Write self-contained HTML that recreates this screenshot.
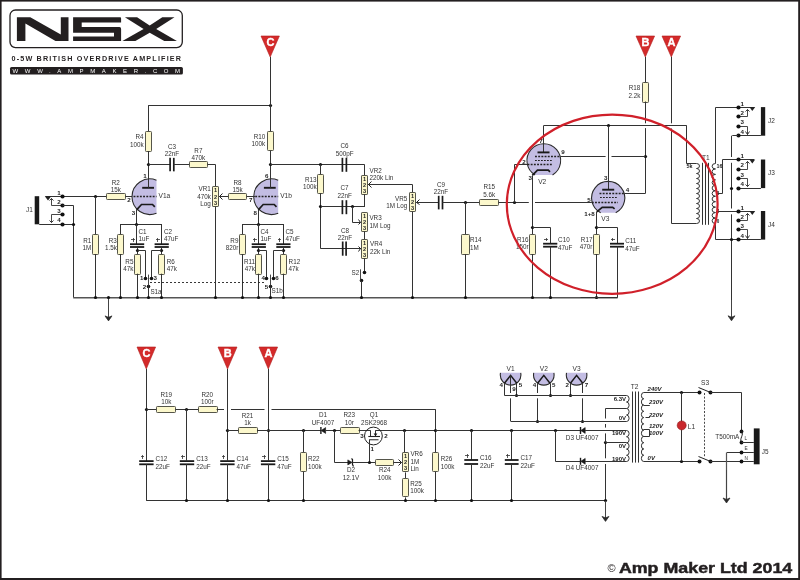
<!DOCTYPE html>
<html><head><meta charset="utf-8"><style>
html,body{margin:0;padding:0;background:#fff;overflow:hidden;}
svg{display:block;font-family:"Liberation Sans",sans-serif;will-change:transform;}
</style></head><body>
<svg width="800" height="580" viewBox="0 0 800 580">
<rect x="0" y="0" width="800" height="580" fill="#fff"/>
<rect x="0" y="0" width="800" height="1.6" fill="#231f20"/>
<rect x="0" y="0" width="1.6" height="580" fill="#231f20"/>
<rect x="798.2" y="0" width="1.8" height="580" fill="#231f20"/>
<rect x="0" y="578" width="800" height="2" fill="#231f20"/>
<rect x="10" y="10" width="172.3" height="37.6" rx="5.5" fill="none" stroke="#231f20" stroke-width="1.3"/>
<path d="M16.9,17.3 L30.3,17.3 L60.8,34.6 L60.8,17.3 L68.5,17.3 L68.5,40.9 L55.5,40.9 L25.4,23.6 L25.4,40.9 L16.9,40.9 Z" fill="#231f20"/>
<path d="M73.1,17.3 L120.2,17.3 Q121.1,17.3 121.1,18.5 L121.1,22.6 L81.7,22.6 L81.7,27 L119.5,27 Q121.1,27 121.1,28.8 L121.1,40.9 L73.1,40.9 L73.1,36.4 L114,36.4 L114,32.7 L73.1,32.7 Z" fill="#231f20"/>
<path d="M124.9,17.3 L137.1,17.3 L149.7,25.4 L162.3,17.3 L174.5,17.3 L156.2,29.1 L176.9,40.9 L164.3,40.9 L149.7,32.7 L135.4,40.9 L122.4,40.9 L143.6,29.1 Z" fill="#231f20"/>
<text x="11.5" y="60.9" font-size="7.2" font-weight="bold" fill="#231f20" textLength="169.5" lengthAdjust="spacing">0-5W BRITISH OVERDRIVE AMPLIFIER</text>
<rect x="10" y="67" width="172.9" height="7.4" rx="1.5" fill="#231f20"/>
<text x="12.6" y="73.3" font-size="6" fill="#fff" textLength="167.5" lengthAdjust="spacing">WWW.AMPMAKER.COM</text>
<text x="607.5" y="571.5" font-size="11" fill="#231f20">©</text>
<text x="618.9" y="572.6" font-size="14.6" font-weight="bold" fill="#231f20" textLength="173.4" lengthAdjust="spacingAndGlyphs" stroke="#231f20" stroke-width="0.45">Amp Maker Ltd 2014</text>
<rect x="34.7" y="196.2" width="4.5" height="28.1" fill="#1a1a1a"/>
<line x1="39.2" y1="224.5" x2="73.2" y2="224.5" stroke="#333" stroke-width="1"/>
<line x1="45.5" y1="196.5" x2="106.2" y2="196.5" stroke="#333" stroke-width="1"/>
<path d="M44.8,196.2 L51.2,196.2 L48,200.6 Z" fill="#222"/>
<polyline points="62.5,205.5 51.5,205.5 51.5,198.5" fill="none" stroke="#333" stroke-width="0.9"/>
<polyline points="49.5,200.5 51.5,198.5 53.5,200.5" fill="none" stroke="#222" stroke-width="0.9"/>
<polyline points="62.5,214.5 51.5,214.5 51.5,222.5" fill="none" stroke="#333" stroke-width="0.9"/>
<polyline points="49.5,220.5 51.5,222.5 53.5,220.5" fill="none" stroke="#222" stroke-width="0.9"/>
<circle cx="62.5" cy="196.5" r="2.1" fill="#111"/>
<circle cx="62.5" cy="205.5" r="2.1" fill="#111"/>
<circle cx="62.5" cy="214.5" r="2.1" fill="#111"/>
<circle cx="62.5" cy="224.5" r="2.1" fill="#111"/>
<polyline points="62.5,205.5 73.5,205.5 73.5,297.5" fill="none" stroke="#333" stroke-width="1"/>
<circle cx="73.5" cy="224.5" r="1.6" fill="#111"/>
<text x="57.2" y="194.6" font-size="6.2" font-weight="bold" fill="#222">1</text>
<text x="57.2" y="203.6" font-size="6.2" font-weight="bold" fill="#222">2</text>
<text x="57.2" y="212.9" font-size="6.2" font-weight="bold" fill="#222">3</text>
<text x="57.2" y="222.2" font-size="6.2" font-weight="bold" fill="#222">4</text>
<text x="26" y="212" font-size="6.5" fill="#333">J1</text>
<line x1="73.2" y1="297.7" x2="617.6" y2="297.7" stroke="#555" stroke-width="1.5"/>
<line x1="108.5" y1="297.7" x2="108.5" y2="319.5" stroke="#444" stroke-width="1"/>
<path d="M105.0,315.9 L108.5,317.3 L112.0,315.9 L108.5,320.9 Z" fill="#2a2a2a" stroke="#2a2a2a" stroke-width="0.7" stroke-linejoin="round"/>
<circle cx="108.5" cy="297.5" r="1.6" fill="#111"/>
<circle cx="95.5" cy="196.5" r="1.6" fill="#111"/>
<line x1="95.5" y1="196.7" x2="95.5" y2="234.5" stroke="#333" stroke-width="1"/>
<rect x="92.5" y="234.5" width="6" height="20" rx="0.8" fill="#fcf8cc" stroke="#55554a" stroke-width="1"/>
<line x1="95.5" y1="254" x2="95.5" y2="297.7" stroke="#333" stroke-width="1"/>
<circle cx="95.5" cy="297.5" r="1.6" fill="#111"/>
<text x="91.2" y="242.7" font-size="6.3" text-anchor="end" fill="#333">R1</text>
<text x="91.2" y="250.2" font-size="6.3" text-anchor="end" fill="#333">1M</text>
<rect x="106.5" y="193.5" width="19" height="6" rx="0.8" fill="#fcf8cc" stroke="#55554a" stroke-width="1"/>
<text x="115.8" y="184.7" font-size="6.3" text-anchor="middle" fill="#333">R2</text>
<text x="115.8" y="191.7" font-size="6.3" text-anchor="middle" fill="#333">15k</text>
<line x1="125.4" y1="196.5" x2="133" y2="196.5" stroke="#333" stroke-width="1"/>
<path d="M156.5,180.20909341485435 A17.8,17.8 0 1 0 156.5,213.19090658514563 Z" fill="#c3bde3" stroke="none"/>
<path d="M156.5,180.20909341485435 A17.8,17.8 0 1 0 156.5,213.19090658514563" fill="none" stroke="#2b2b2b" stroke-width="1.1"/>
<line x1="142.2" y1="187.8" x2="154" y2="187.8" stroke="#1a1a1a" stroke-width="1.9"/>
<line x1="148.5" y1="164.3" x2="148.5" y2="187.8" stroke="#333" stroke-width="1"/>
<line x1="133.5" y1="196.5" x2="156.5" y2="196.5" stroke="#222" stroke-width="1.6" stroke-dasharray="1.9 1.3"/>
<polyline points="136.6,209.8 141.5,204.5 152.5,204.5 154.8,206.8" fill="none" stroke="#1a1a1a" stroke-width="1.7"/>
<line x1="136.5" y1="209.8" x2="136.5" y2="224" stroke="#333" stroke-width="1"/>
<text x="143.3" y="178.3" font-size="6.2" font-weight="bold" fill="#222">1</text>
<text x="127.2" y="201.8" font-size="6.2" font-weight="bold" fill="#222">2</text>
<text x="131.8" y="215.2" font-size="6.2" font-weight="bold" fill="#222">3</text>
<text x="158.5" y="198.2" font-size="6.6" fill="#333">V1a</text>
<line x1="120.8" y1="224.5" x2="161.7" y2="224.5" stroke="#333" stroke-width="1"/>
<circle cx="136.5" cy="224.5" r="1.6" fill="#111"/>
<line x1="120.5" y1="224" x2="120.5" y2="234.5" stroke="#333" stroke-width="1"/>
<rect x="117.5" y="234.5" width="6" height="20" rx="0.8" fill="#fcf8cc" stroke="#55554a" stroke-width="1"/>
<line x1="120.5" y1="254" x2="120.5" y2="297.7" stroke="#333" stroke-width="1"/>
<circle cx="120.5" cy="297.5" r="1.6" fill="#111"/>
<line x1="136.5" y1="224" x2="136.5" y2="244.2" stroke="#333" stroke-width="1"/>
<line x1="130.0" y1="244.20000000000002" x2="144.2" y2="244.20000000000002" stroke="#1a1a1a" stroke-width="1.8"/>
<line x1="130.0" y1="247.0" x2="144.2" y2="247.0" stroke="#1a1a1a" stroke-width="1.8"/>
<line x1="131.2" y1="239.5" x2="135.0" y2="239.5" stroke="#333" stroke-width="0.8" shape-rendering="crispEdges"/>
<line x1="133.5" y1="238.0" x2="133.5" y2="241.8" stroke="#333" stroke-width="0.8" shape-rendering="crispEdges"/>
<line x1="137.5" y1="246.8" x2="137.5" y2="254.2" stroke="#333" stroke-width="1"/>
<circle cx="137.5" cy="250.5" r="1.6" fill="#111"/>
<rect x="134.5" y="254.5" width="6" height="20" rx="0.8" fill="#fcf8cc" stroke="#55554a" stroke-width="1"/>
<line x1="137.5" y1="273.7" x2="137.5" y2="297.7" stroke="#333" stroke-width="1"/>
<circle cx="137.5" cy="297.5" r="1.6" fill="#111"/>
<polyline points="137.5,250.5 145.5,250.5 145.5,278.5" fill="none" stroke="#333" stroke-width="1"/>
<line x1="161.5" y1="224" x2="161.5" y2="244.2" stroke="#333" stroke-width="1"/>
<line x1="154.6" y1="244.20000000000002" x2="168.79999999999998" y2="244.20000000000002" stroke="#1a1a1a" stroke-width="1.8"/>
<line x1="154.6" y1="247.0" x2="168.79999999999998" y2="247.0" stroke="#1a1a1a" stroke-width="1.8"/>
<line x1="155.79999999999998" y1="239.5" x2="159.6" y2="239.5" stroke="#333" stroke-width="0.8" shape-rendering="crispEdges"/>
<line x1="157.5" y1="238.0" x2="157.5" y2="241.8" stroke="#333" stroke-width="0.8" shape-rendering="crispEdges"/>
<line x1="161.5" y1="246.8" x2="161.5" y2="254.2" stroke="#333" stroke-width="1"/>
<circle cx="161.5" cy="250.5" r="1.6" fill="#111"/>
<rect x="158.5" y="254.5" width="6" height="20" rx="0.8" fill="#fcf8cc" stroke="#55554a" stroke-width="1"/>
<line x1="161.5" y1="273.7" x2="161.5" y2="297.7" stroke="#333" stroke-width="1"/>
<circle cx="161.5" cy="297.5" r="1.6" fill="#111"/>
<polyline points="161.5,250.5 151.5,250.5 151.5,278.5" fill="none" stroke="#333" stroke-width="1"/>
<circle cx="145.5" cy="278.5" r="1.8" fill="#111"/>
<circle cx="151.5" cy="278.5" r="1.8" fill="#111"/>
<circle cx="148.5" cy="286.5" r="1.8" fill="#111"/>
<line x1="148.5" y1="286.8" x2="148.5" y2="274.6" stroke="#333" stroke-width="0.9"/>
<line x1="148.5" y1="286.8" x2="148.5" y2="297.7" stroke="#333" stroke-width="1"/>
<circle cx="148.5" cy="297.5" r="1.6" fill="#111"/>
<path d="M278.2,180.20909341485435 A17.8,17.8 0 1 0 278.2,213.19090658514563 Z" fill="#c3bde3" stroke="none"/>
<path d="M278.2,180.20909341485435 A17.8,17.8 0 1 0 278.2,213.19090658514563" fill="none" stroke="#2b2b2b" stroke-width="1.1"/>
<line x1="263.9" y1="187.8" x2="275.7" y2="187.8" stroke="#1a1a1a" stroke-width="1.9"/>
<line x1="270.5" y1="164.3" x2="270.5" y2="187.8" stroke="#333" stroke-width="1"/>
<line x1="255.2" y1="196.5" x2="278.2" y2="196.5" stroke="#222" stroke-width="1.6" stroke-dasharray="1.9 1.3"/>
<polyline points="258.3,209.8 263.2,204.5 274.2,204.5 276.5,206.8" fill="none" stroke="#1a1a1a" stroke-width="1.7"/>
<line x1="258.5" y1="209.8" x2="258.5" y2="224" stroke="#333" stroke-width="1"/>
<text x="265.0" y="178.3" font-size="6.2" font-weight="bold" fill="#222">6</text>
<text x="248.9" y="201.8" font-size="6.2" font-weight="bold" fill="#222">7</text>
<text x="253.5" y="215.2" font-size="6.2" font-weight="bold" fill="#222">8</text>
<text x="280.2" y="198.2" font-size="6.6" fill="#333">V1b</text>
<line x1="242.5" y1="224.5" x2="283.4" y2="224.5" stroke="#333" stroke-width="1"/>
<circle cx="258.5" cy="224.5" r="1.6" fill="#111"/>
<line x1="242.5" y1="224" x2="242.5" y2="234.5" stroke="#333" stroke-width="1"/>
<rect x="239.5" y="234.5" width="6" height="20" rx="0.8" fill="#fcf8cc" stroke="#55554a" stroke-width="1"/>
<line x1="242.5" y1="254" x2="242.5" y2="297.7" stroke="#333" stroke-width="1"/>
<circle cx="242.5" cy="297.5" r="1.6" fill="#111"/>
<line x1="258.5" y1="224" x2="258.5" y2="244.2" stroke="#333" stroke-width="1"/>
<line x1="251.70000000000002" y1="244.20000000000002" x2="265.90000000000003" y2="244.20000000000002" stroke="#1a1a1a" stroke-width="1.8"/>
<line x1="251.70000000000002" y1="247.0" x2="265.90000000000003" y2="247.0" stroke="#1a1a1a" stroke-width="1.8"/>
<line x1="252.9" y1="239.5" x2="256.7" y2="239.5" stroke="#333" stroke-width="0.8" shape-rendering="crispEdges"/>
<line x1="254.5" y1="238.0" x2="254.5" y2="241.8" stroke="#333" stroke-width="0.8" shape-rendering="crispEdges"/>
<line x1="258.5" y1="246.8" x2="258.5" y2="254.2" stroke="#333" stroke-width="1"/>
<circle cx="258.5" cy="250.5" r="1.6" fill="#111"/>
<rect x="255.5" y="254.5" width="6" height="20" rx="0.8" fill="#fcf8cc" stroke="#55554a" stroke-width="1"/>
<line x1="258.5" y1="273.7" x2="258.5" y2="297.7" stroke="#333" stroke-width="1"/>
<circle cx="258.5" cy="297.5" r="1.6" fill="#111"/>
<polyline points="258.5,250.5 266.5,250.5 266.5,278.5" fill="none" stroke="#333" stroke-width="1"/>
<line x1="283.5" y1="224" x2="283.5" y2="244.2" stroke="#333" stroke-width="1"/>
<line x1="276.29999999999995" y1="244.20000000000002" x2="290.5" y2="244.20000000000002" stroke="#1a1a1a" stroke-width="1.8"/>
<line x1="276.29999999999995" y1="247.0" x2="290.5" y2="247.0" stroke="#1a1a1a" stroke-width="1.8"/>
<line x1="277.5" y1="239.5" x2="281.29999999999995" y2="239.5" stroke="#333" stroke-width="0.8" shape-rendering="crispEdges"/>
<line x1="279.5" y1="238.0" x2="279.5" y2="241.8" stroke="#333" stroke-width="0.8" shape-rendering="crispEdges"/>
<line x1="283.5" y1="246.8" x2="283.5" y2="254.2" stroke="#333" stroke-width="1"/>
<circle cx="283.5" cy="250.5" r="1.6" fill="#111"/>
<rect x="280.5" y="254.5" width="6" height="20" rx="0.8" fill="#fcf8cc" stroke="#55554a" stroke-width="1"/>
<line x1="283.5" y1="273.7" x2="283.5" y2="297.7" stroke="#333" stroke-width="1"/>
<circle cx="283.5" cy="297.5" r="1.6" fill="#111"/>
<polyline points="283.5,250.5 273.5,250.5 273.5,278.5" fill="none" stroke="#333" stroke-width="1"/>
<circle cx="266.5" cy="278.5" r="1.8" fill="#111"/>
<circle cx="273.5" cy="278.5" r="1.8" fill="#111"/>
<circle cx="270.5" cy="286.5" r="1.8" fill="#111"/>
<line x1="270.5" y1="286.8" x2="270.5" y2="274.6" stroke="#333" stroke-width="0.9"/>
<line x1="270.5" y1="286.8" x2="270.5" y2="297.7" stroke="#333" stroke-width="1"/>
<circle cx="270.5" cy="297.5" r="1.6" fill="#111"/>
<text x="138.5" y="233.7" font-size="6.3" fill="#333">C1</text>
<text x="138.5" y="240.8" font-size="6.3" fill="#333">1uF</text>
<text x="164" y="233.7" font-size="6.3" fill="#333">C2</text>
<text x="164" y="240.8" font-size="6.3" fill="#333">47uF</text>
<text x="116.8" y="242.7" font-size="6.3" text-anchor="end" fill="#333">R3</text>
<text x="116.8" y="250.2" font-size="6.3" text-anchor="end" fill="#333">1.5k</text>
<text x="133.4" y="263.9" font-size="6.3" text-anchor="end" fill="#333">R5</text>
<text x="133.4" y="271.3" font-size="6.3" text-anchor="end" fill="#333">47k</text>
<text x="166.8" y="263.9" font-size="6.3" fill="#333">R6</text>
<text x="166.8" y="271.3" font-size="6.3" fill="#333">47k</text>
<text x="143.4" y="280.2" font-size="6.2" text-anchor="end" font-weight="bold" fill="#222">1</text>
<text x="153.4" y="280.2" font-size="6.2" font-weight="bold" fill="#222">3</text>
<text x="146.3" y="289" font-size="6.2" text-anchor="end" font-weight="bold" fill="#222">2</text>
<text x="150.4" y="293.8" font-size="6.3" fill="#333">S1a</text>
<text x="260.5" y="233.7" font-size="6.3" fill="#333">C4</text>
<text x="260.5" y="240.8" font-size="6.3" fill="#333">1uF</text>
<text x="285.5" y="233.7" font-size="6.3" fill="#333">C5</text>
<text x="285.5" y="240.8" font-size="6.3" fill="#333">47uF</text>
<text x="238.4" y="243" font-size="6.3" text-anchor="end" fill="#333">R9</text>
<text x="238.4" y="250.4" font-size="6.3" text-anchor="end" fill="#333">820r</text>
<text x="255" y="264.1" font-size="6.3" text-anchor="end" fill="#333">R11</text>
<text x="255" y="271.4" font-size="6.3" text-anchor="end" fill="#333">47k</text>
<text x="288.6" y="264.1" font-size="6.3" fill="#333">R12</text>
<text x="288.6" y="271.4" font-size="6.3" fill="#333">47k</text>
<text x="264.9" y="280.4" font-size="6.2" text-anchor="end" font-weight="bold" fill="#222">4</text>
<text x="275.3" y="280.4" font-size="6.2" font-weight="bold" fill="#222">6</text>
<text x="268.1" y="289" font-size="6.2" text-anchor="end" font-weight="bold" fill="#222">5</text>
<text x="271.6" y="293.4" font-size="6.3" fill="#333">S1b</text>
<line x1="150" y1="282.5" x2="266" y2="282.5" stroke="#222" stroke-width="0.9" stroke-dasharray="2 2"/>
<line x1="148.4" y1="105.5" x2="270" y2="105.5" stroke="#333" stroke-width="1"/>
<circle cx="270.5" cy="105.5" r="1.6" fill="#111"/>
<line x1="148.5" y1="105.2" x2="148.5" y2="131.4" stroke="#333" stroke-width="1"/>
<rect x="145.5" y="131.5" width="6" height="20" rx="0.8" fill="#fcf8cc" stroke="#55554a" stroke-width="1"/>
<line x1="148.5" y1="151" x2="148.5" y2="164.3" stroke="#333" stroke-width="1"/>
<circle cx="148.5" cy="164.5" r="1.6" fill="#111"/>
<text x="143.6" y="139.3" font-size="6.3" text-anchor="end" fill="#333">R4</text>
<text x="143.6" y="146.8" font-size="6.3" text-anchor="end" fill="#333">100k</text>
<line x1="148.4" y1="164.5" x2="170.3" y2="164.5" stroke="#333" stroke-width="1"/>
<line x1="170.10000000000002" y1="157.85" x2="170.10000000000002" y2="171.35" stroke="#1a1a1a" stroke-width="1.7"/>
<line x1="173.79999999999998" y1="157.85" x2="173.79999999999998" y2="171.35" stroke="#1a1a1a" stroke-width="1.7"/>
<line x1="173.6" y1="164.5" x2="189.2" y2="164.5" stroke="#333" stroke-width="1"/>
<text x="172" y="149.2" font-size="6.3" text-anchor="middle" fill="#333">C3</text>
<text x="172" y="156.3" font-size="6.3" text-anchor="middle" fill="#333">22nF</text>
<rect x="189.5" y="161.5" width="18" height="6" rx="0.8" fill="#fcf8cc" stroke="#55554a" stroke-width="1"/>
<text x="198.4" y="152.8" font-size="6.3" text-anchor="middle" fill="#333">R7</text>
<text x="198.4" y="159.7" font-size="6.3" text-anchor="middle" fill="#333">470k</text>
<polyline points="207.5,164.5 215.5,164.5 215.5,186.5" fill="none" stroke="#333" stroke-width="1"/>
<rect x="212.5" y="186.5" width="6" height="20" rx="0.6" fill="#fcf8cc" stroke="#55554a" stroke-width="1"/>
<text x="215.5" y="191.83333333333334" font-size="5.6" text-anchor="middle" font-weight="bold" fill="#222">1</text>
<text x="215.5" y="198.5" font-size="5.6" text-anchor="middle" font-weight="bold" fill="#222">2</text>
<text x="215.5" y="205.16666666666666" font-size="5.6" text-anchor="middle" font-weight="bold" fill="#222">3</text>
<line x1="215.5" y1="206.8" x2="215.5" y2="297.7" stroke="#333" stroke-width="1"/>
<circle cx="215.5" cy="297.5" r="1.6" fill="#111"/>
<line x1="219.2" y1="196.5" x2="228.3" y2="196.5" stroke="#333" stroke-width="1"/>
<polyline points="222.5,193.5 219.5,196.5 222.5,199.5" fill="none" stroke="#222" stroke-width="1"/>
<text x="210.8" y="191.3" font-size="6.3" text-anchor="end" fill="#333">VR1</text>
<text x="210.8" y="198.8" font-size="6.3" text-anchor="end" fill="#333">470k</text>
<text x="210.8" y="206.2" font-size="6.3" text-anchor="end" fill="#333">Log</text>
<rect x="228.5" y="193.5" width="18" height="6" rx="0.8" fill="#fcf8cc" stroke="#55554a" stroke-width="1"/>
<text x="237.6" y="185.3" font-size="6.3" text-anchor="middle" fill="#333">R8</text>
<text x="237.6" y="192.4" font-size="6.3" text-anchor="middle" fill="#333">15k</text>
<line x1="246.7" y1="196.5" x2="255" y2="196.5" stroke="#333" stroke-width="1"/>
<path d="M261,36 L279.4,36 L270.2,57 Z" fill="#d42a2a" stroke="#b01c1c" stroke-width="0.6"/>
<text x="270.4" y="45.7" font-size="11" text-anchor="middle" font-weight="bold" fill="#fff" stroke="#fff" stroke-width="0.35">C</text>
<line x1="270.5" y1="57" x2="270.5" y2="131.7" stroke="#333" stroke-width="1"/>
<rect x="267.5" y="131.5" width="6" height="19" rx="0.8" fill="#fcf8cc" stroke="#55554a" stroke-width="1"/>
<text x="265.2" y="139.2" font-size="6.3" text-anchor="end" fill="#333">R10</text>
<text x="265.2" y="146.4" font-size="6.3" text-anchor="end" fill="#333">100k</text>
<line x1="270.5" y1="150.7" x2="270.5" y2="164.3" stroke="#333" stroke-width="1"/>
<circle cx="270.5" cy="164.5" r="1.6" fill="#111"/>
<line x1="270.1" y1="164.5" x2="364.3" y2="164.5" stroke="#333" stroke-width="1"/>
<circle cx="320.5" cy="164.5" r="1.6" fill="#111"/>
<line x1="342.40000000000003" y1="157.8" x2="342.40000000000003" y2="171.8" stroke="#1a1a1a" stroke-width="1.7"/>
<line x1="346.4" y1="157.8" x2="346.4" y2="171.8" stroke="#1a1a1a" stroke-width="1.7"/>
<text x="344.6" y="148" font-size="6.3" text-anchor="middle" fill="#333">C6</text>
<text x="344.6" y="155.5" font-size="6.3" text-anchor="middle" fill="#333">500pF</text>
<line x1="364.5" y1="164.3" x2="364.5" y2="175.2" stroke="#333" stroke-width="1"/>
<rect x="361.5" y="175.5" width="6" height="19" rx="0.6" fill="#fcf8cc" stroke="#55554a" stroke-width="1"/>
<text x="364.5" y="180.66666666666666" font-size="5.6" text-anchor="middle" font-weight="bold" fill="#222">1</text>
<text x="364.5" y="187.0" font-size="5.6" text-anchor="middle" font-weight="bold" fill="#222">2</text>
<text x="364.5" y="193.33333333333334" font-size="5.6" text-anchor="middle" font-weight="bold" fill="#222">3</text>
<line x1="364.5" y1="194.3" x2="364.5" y2="207" stroke="#333" stroke-width="1"/>
<text x="369.5" y="172.8" font-size="6.3" fill="#333">VR2</text>
<text x="369.5" y="179.9" font-size="6.3" fill="#333">220k Lin</text>
<line x1="320.5" y1="164.3" x2="320.5" y2="174.3" stroke="#333" stroke-width="1"/>
<rect x="317.5" y="174.5" width="6" height="19" rx="0.8" fill="#fcf8cc" stroke="#55554a" stroke-width="1"/>
<text x="316.6" y="182.2" font-size="6.3" text-anchor="end" fill="#333">R13</text>
<text x="316.6" y="189.3" font-size="6.3" text-anchor="end" fill="#333">100k</text>
<line x1="320.5" y1="193.3" x2="320.5" y2="248.8" stroke="#333" stroke-width="1"/>
<circle cx="320.5" cy="206.5" r="1.6" fill="#111"/>
<line x1="321" y1="206.5" x2="364.3" y2="206.5" stroke="#333" stroke-width="1"/>
<line x1="342.40000000000003" y1="200.2" x2="342.40000000000003" y2="214.2" stroke="#1a1a1a" stroke-width="1.7"/>
<line x1="346.4" y1="200.2" x2="346.4" y2="214.2" stroke="#1a1a1a" stroke-width="1.7"/>
<circle cx="352.5" cy="206.5" r="1.6" fill="#111"/>
<text x="344.6" y="190.4" font-size="6.3" text-anchor="middle" fill="#333">C7</text>
<text x="344.6" y="197.6" font-size="6.3" text-anchor="middle" fill="#333">22nF</text>
<polyline points="352.5,206.5 352.5,222.5 360.5,222.5" fill="none" stroke="#333" stroke-width="1"/>
<polyline points="358.5,219.5 360.5,222.5 358.5,224.5" fill="none" stroke="#222" stroke-width="1"/>
<rect x="361.5" y="212.5" width="6" height="19" rx="0.6" fill="#fcf8cc" stroke="#55554a" stroke-width="1"/>
<text x="364.5" y="217.66666666666666" font-size="5.6" text-anchor="middle" font-weight="bold" fill="#222">1</text>
<text x="364.5" y="224.0" font-size="5.6" text-anchor="middle" font-weight="bold" fill="#222">2</text>
<text x="364.5" y="230.33333333333334" font-size="5.6" text-anchor="middle" font-weight="bold" fill="#222">3</text>
<line x1="364.5" y1="231.5" x2="364.5" y2="239.3" stroke="#333" stroke-width="1"/>
<rect x="361.5" y="239.5" width="6" height="19" rx="0.6" fill="#fcf8cc" stroke="#55554a" stroke-width="1"/>
<text x="364.5" y="244.66666666666666" font-size="5.6" text-anchor="middle" font-weight="bold" fill="#222">1</text>
<text x="364.5" y="251.0" font-size="5.6" text-anchor="middle" font-weight="bold" fill="#222">2</text>
<text x="364.5" y="257.33333333333337" font-size="5.6" text-anchor="middle" font-weight="bold" fill="#222">3</text>
<text x="369.4" y="220.4" font-size="6.3" fill="#333">VR3</text>
<text x="369.4" y="227.7" font-size="6.3" fill="#333">1M Log</text>
<text x="370" y="246.4" font-size="6.3" fill="#333">VR4</text>
<text x="370" y="253.7" font-size="6.3" fill="#333">22k Lin</text>
<line x1="321" y1="248.5" x2="361" y2="248.5" stroke="#333" stroke-width="1"/>
<line x1="342.7" y1="241.5" x2="342.7" y2="255.7" stroke="#1a1a1a" stroke-width="1.7"/>
<line x1="346.09999999999997" y1="241.5" x2="346.09999999999997" y2="255.7" stroke="#1a1a1a" stroke-width="1.7"/>
<polyline points="358.5,246.5 360.5,248.5 358.5,251.5" fill="none" stroke="#222" stroke-width="1"/>
<text x="345" y="232.9" font-size="6.3" text-anchor="middle" fill="#333">C8</text>
<text x="345" y="240.2" font-size="6.3" text-anchor="middle" fill="#333">22nF</text>
<line x1="364.5" y1="258.5" x2="364.5" y2="272" stroke="#333" stroke-width="1"/>
<circle cx="364.5" cy="272.5" r="1.8" fill="#111"/>
<circle cx="361.5" cy="280.5" r="1.8" fill="#111"/>
<line x1="360.5" y1="280.8" x2="360.5" y2="269.3" stroke="#333" stroke-width="0.9"/>
<line x1="361.5" y1="280.8" x2="361.5" y2="297.7" stroke="#333" stroke-width="1"/>
<circle cx="361.5" cy="297.5" r="1.6" fill="#111"/>
<text x="359.2" y="275.3" font-size="6.3" text-anchor="end" fill="#333">S2</text>
<line x1="368" y1="184.5" x2="412.5" y2="184.5" stroke="#333" stroke-width="1"/>
<polyline points="371.5,181.5 368.5,184.5 371.5,187.5" fill="none" stroke="#222" stroke-width="1"/>
<line x1="412.5" y1="184.6" x2="412.5" y2="192.4" stroke="#333" stroke-width="1"/>
<rect x="409.5" y="192.5" width="6" height="19" rx="0.6" fill="#fcf8cc" stroke="#55554a" stroke-width="1"/>
<text x="412.5" y="197.66666666666666" font-size="5.6" text-anchor="middle" font-weight="bold" fill="#222">1</text>
<text x="412.5" y="204.0" font-size="5.6" text-anchor="middle" font-weight="bold" fill="#222">2</text>
<text x="412.5" y="210.33333333333334" font-size="5.6" text-anchor="middle" font-weight="bold" fill="#222">3</text>
<line x1="412.5" y1="211.7" x2="412.5" y2="297.7" stroke="#333" stroke-width="1"/>
<circle cx="412.5" cy="297.5" r="1.6" fill="#111"/>
<text x="407.2" y="200.8" font-size="6.3" text-anchor="end" fill="#333">VR5</text>
<text x="407.2" y="208.2" font-size="6.3" text-anchor="end" fill="#333">1M Log</text>
<line x1="416.2" y1="202.5" x2="438.7" y2="202.5" stroke="#333" stroke-width="1"/>
<polyline points="419.5,199.5 416.5,202.5 419.5,204.5" fill="none" stroke="#222" stroke-width="1"/>
<line x1="438.7" y1="195.79999999999998" x2="438.7" y2="209.4" stroke="#1a1a1a" stroke-width="1.7"/>
<line x1="442.5" y1="195.79999999999998" x2="442.5" y2="209.4" stroke="#1a1a1a" stroke-width="1.7"/>
<text x="441" y="187.3" font-size="6.3" text-anchor="middle" fill="#333">C9</text>
<text x="441" y="194.3" font-size="6.3" text-anchor="middle" fill="#333">22nF</text>
<line x1="442.3" y1="202.5" x2="479.8" y2="202.5" stroke="#333" stroke-width="1"/>
<circle cx="465.5" cy="202.5" r="1.6" fill="#111"/>
<rect x="479.5" y="199.5" width="19" height="6" rx="0.8" fill="#fcf8cc" stroke="#55554a" stroke-width="1"/>
<text x="489.2" y="189" font-size="6.3" text-anchor="middle" fill="#333">R15</text>
<text x="489.2" y="196.9" font-size="6.3" text-anchor="middle" fill="#333">5.6k</text>
<line x1="498.7" y1="202.5" x2="528.8" y2="202.5" stroke="#333" stroke-width="1"/>
<line x1="535" y1="202.5" x2="591.8" y2="202.5" stroke="#333" stroke-width="1"/>
<circle cx="514.5" cy="202.5" r="1.6" fill="#111"/>
<polyline points="514.5,202.5 514.5,164.5 528.5,164.5" fill="none" stroke="#333" stroke-width="1"/>
<line x1="465.5" y1="202.1" x2="465.5" y2="234.4" stroke="#333" stroke-width="1"/>
<rect x="461.5" y="234.5" width="8" height="20" rx="0.8" fill="#fcf8cc" stroke="#55554a" stroke-width="1"/>
<line x1="465.5" y1="254.2" x2="465.5" y2="297.7" stroke="#333" stroke-width="1"/>
<circle cx="465.5" cy="297.5" r="1.6" fill="#111"/>
<text x="470" y="242.4" font-size="6.3" fill="#333">R14</text>
<text x="470" y="249.7" font-size="6.3" fill="#333">1M</text>
<line x1="543.5" y1="125.5" x2="686.7" y2="125.5" stroke="#333" stroke-width="1"/>
<circle cx="608.5" cy="125.5" r="1.6" fill="#111"/>
<polyline points="686.5,125.5 686.5,163.5 696.5,163.5" fill="none" stroke="#333" stroke-width="1"/>
<path d="M636,36 L654.6,36 L645.3,57 Z" fill="#d42a2a" stroke="#b01c1c" stroke-width="0.6"/>
<text x="645.5" y="45.7" font-size="11" text-anchor="middle" font-weight="bold" fill="#fff" stroke="#fff" stroke-width="0.35">B</text>
<path d="M662,36 L680.6,36 L671.3,57 Z" fill="#d42a2a" stroke="#b01c1c" stroke-width="0.6"/>
<text x="671.5" y="45.7" font-size="11" text-anchor="middle" font-weight="bold" fill="#fff" stroke="#fff" stroke-width="0.35">A</text>
<line x1="645.5" y1="57" x2="645.5" y2="82" stroke="#333" stroke-width="1"/>
<rect x="642.5" y="82.5" width="6" height="20" rx="0.8" fill="#fcf8cc" stroke="#55554a" stroke-width="1"/>
<text x="640.3" y="90.2" font-size="6.3" text-anchor="end" fill="#333">R18</text>
<text x="640.3" y="97.6" font-size="6.3" text-anchor="end" fill="#333">2.2k</text>
<line x1="645.5" y1="101.5" x2="645.5" y2="123.3" stroke="#333" stroke-width="1"/>
<line x1="645.5" y1="128.1" x2="645.5" y2="193.4" stroke="#333" stroke-width="1"/>
<circle cx="645.5" cy="156.5" r="1.6" fill="#111"/>
<line x1="671.5" y1="57" x2="671.5" y2="123.3" stroke="#333" stroke-width="1"/>
<polyline points="671.5,128.5 671.5,223.5 696.5,223.5" fill="none" stroke="#333" stroke-width="1"/>
<path d="M535.05,175 A16.85,16.85 0 1 1 552.55,175 Z" fill="#c3bde3" stroke="none"/>
<path d="M535.05,175 A16.85,16.85 0 1 1 552.55,175" fill="none" stroke="#2b2b2b" stroke-width="1.1"/>
<line x1="543.5" y1="125.7" x2="543.5" y2="152.4" stroke="#333" stroke-width="1"/>
<line x1="537.5" y1="152.4" x2="549.5" y2="152.4" stroke="#1a1a1a" stroke-width="1.9"/>
<line x1="535" y1="156.5" x2="560.7" y2="156.5" stroke="#222" stroke-width="1.6" stroke-dasharray="1.9 1.3"/>
<line x1="535" y1="160.5" x2="552.5" y2="160.5" stroke="#222" stroke-width="1.1" stroke-dasharray="1.8 1.2"/>
<line x1="527.5" y1="164.5" x2="552.5" y2="164.5" stroke="#222" stroke-width="1.6" stroke-dasharray="1.9 1.3"/>
<line x1="560.7" y1="156.5" x2="605.6" y2="156.5" stroke="#333" stroke-width="1"/>
<line x1="611.5" y1="156.5" x2="645.4" y2="156.5" stroke="#333" stroke-width="1"/>
<polyline points="532.3,175.4 537.5,170.1 548.3,170.1 550,171.8" fill="none" stroke="#1a1a1a" stroke-width="1.7"/>
<line x1="532.5" y1="175.4" x2="532.5" y2="234.4" stroke="#333" stroke-width="1"/>
<text x="539.3" y="143.2" font-size="6.2" font-weight="bold" fill="#222">7</text>
<text x="561.3" y="154.4" font-size="6.2" font-weight="bold" fill="#222">9</text>
<text x="522.3" y="164" font-size="6.2" font-weight="bold" fill="#222">2</text>
<text x="528.4" y="179.6" font-size="6.2" font-weight="bold" fill="#222">3</text>
<text x="542.2" y="184" font-size="6.6" text-anchor="middle" fill="#333">V2</text>
<circle cx="532.5" cy="227.5" r="1.6" fill="#111"/>
<rect x="529.5" y="234.5" width="6" height="20" rx="0.8" fill="#fcf8cc" stroke="#55554a" stroke-width="1"/>
<line x1="532.5" y1="254" x2="532.5" y2="297.4" stroke="#333" stroke-width="1"/>
<circle cx="532.5" cy="297.5" r="1.6" fill="#111"/>
<polyline points="532.5,227.5 550.5,227.5 550.5,243.5" fill="none" stroke="#333" stroke-width="1"/>
<line x1="543.1" y1="243.70000000000002" x2="557.3000000000001" y2="243.70000000000002" stroke="#1a1a1a" stroke-width="1.8"/>
<line x1="543.1" y1="246.7" x2="557.3000000000001" y2="246.7" stroke="#1a1a1a" stroke-width="1.8"/>
<line x1="544.3000000000001" y1="239.5" x2="548.1" y2="239.5" stroke="#333" stroke-width="0.8" shape-rendering="crispEdges"/>
<line x1="546.5" y1="237.5" x2="546.5" y2="241.3" stroke="#333" stroke-width="0.8" shape-rendering="crispEdges"/>
<line x1="550.5" y1="246.5" x2="550.5" y2="297.4" stroke="#333" stroke-width="1"/>
<circle cx="550.5" cy="297.5" r="1.6" fill="#111"/>
<text x="528.6" y="242.1" font-size="6.3" text-anchor="end" fill="#333">R16</text>
<text x="528.6" y="249.3" font-size="6.3" text-anchor="end" fill="#333">150r</text>
<text x="558.1" y="242.4" font-size="6.3" fill="#333">C10</text>
<text x="558.1" y="249.9" font-size="6.3" fill="#333">47uF</text>
<path d="M600.6820215483151,212.8 A16.6,16.6 0 1 1 615.717978451685,212.8 Z" fill="#c3bde3" stroke="none"/>
<path d="M600.6820215483151,212.8 A16.6,16.6 0 1 1 615.717978451685,212.8" fill="none" stroke="#2b2b2b" stroke-width="1.1"/>
<line x1="608.5" y1="125.7" x2="608.5" y2="189.7" stroke="#333" stroke-width="1"/>
<line x1="602.2" y1="189.7" x2="614.2" y2="189.7" stroke="#1a1a1a" stroke-width="1.9"/>
<line x1="599.5" y1="193.5" x2="624.7" y2="193.5" stroke="#222" stroke-width="1.6" stroke-dasharray="1.9 1.3"/>
<line x1="600" y1="197.5" x2="617.5" y2="197.5" stroke="#222" stroke-width="1.1" stroke-dasharray="1.8 1.2"/>
<line x1="591.8" y1="202.5" x2="618" y2="202.5" stroke="#222" stroke-width="1.6" stroke-dasharray="1.9 1.3"/>
<polyline points="624.5,193.5 645.5,193.5" fill="none" stroke="#333" stroke-width="1"/>
<polyline points="596.7,211.9 602.2,207.3 612.7,207.3 614.6,208.9" fill="none" stroke="#1a1a1a" stroke-width="1.7"/>
<line x1="596.5" y1="211.9" x2="596.5" y2="234.4" stroke="#333" stroke-width="1"/>
<circle cx="596.5" cy="227.5" r="1.6" fill="#111"/>
<text x="604" y="180.3" font-size="6.2" font-weight="bold" fill="#222">3</text>
<text x="625.8" y="192.4" font-size="6.2" font-weight="bold" fill="#222">4</text>
<text x="587.2" y="201.5" font-size="6.2" font-weight="bold" fill="#222">5</text>
<text x="594.8" y="216.3" font-size="6.2" text-anchor="end" font-weight="bold" fill="#222">1+8</text>
<text x="605.3" y="221" font-size="6.6" text-anchor="middle" fill="#333">V3</text>
<rect x="593.5" y="234.5" width="6" height="20" rx="0.8" fill="#fcf8cc" stroke="#55554a" stroke-width="1"/>
<line x1="596.5" y1="254" x2="596.5" y2="297.4" stroke="#333" stroke-width="1"/>
<circle cx="596.5" cy="297.5" r="1.6" fill="#111"/>
<polyline points="596.5,227.5 617.5,227.5 617.5,243.5" fill="none" stroke="#333" stroke-width="1"/>
<line x1="610" y1="243.70000000000002" x2="624" y2="243.70000000000002" stroke="#1a1a1a" stroke-width="1.8"/>
<line x1="610" y1="246.7" x2="624" y2="246.7" stroke="#1a1a1a" stroke-width="1.8"/>
<line x1="611.1" y1="239.5" x2="614.9" y2="239.5" stroke="#333" stroke-width="0.8" shape-rendering="crispEdges"/>
<line x1="612.5" y1="237.5" x2="612.5" y2="241.3" stroke="#333" stroke-width="0.8" shape-rendering="crispEdges"/>
<polyline points="617.5,246.5 617.5,297.5 580.5,297.5" fill="none" stroke="#333" stroke-width="1"/>
<text x="592.4" y="242.1" font-size="6.3" text-anchor="end" fill="#333">R17</text>
<text x="592.4" y="249.3" font-size="6.3" text-anchor="end" fill="#333">470r</text>
<text x="625.2" y="243.3" font-size="6.3" fill="#333">C11</text>
<text x="625.2" y="250.7" font-size="6.3" fill="#333">47uF</text>
<path d="M696.5,163.5 a3,2.5 0 0 1 0,5.0 a3,2.5 0 0 1 0,5.0 a3,2.5 0 0 1 0,5.0 a3,2.5 0 0 1 0,5.0 a3,2.5 0 0 1 0,5.0 a3,2.5 0 0 1 0,5.0 a3,2.5 0 0 1 0,5.0 a3,2.5 0 0 1 0,5.0 a3,2.5 0 0 1 0,5.0 a3,2.5 0 0 1 0,5.0 a3,2.5 0 0 1 0,5.0 a3,2.5 0 0 1 0,5.0" fill="none" stroke="#333" stroke-width="1"/>
<line x1="702.5" y1="162.8" x2="702.5" y2="224.8" stroke="#333" stroke-width="1"/>
<line x1="705.5" y1="162.8" x2="705.5" y2="224.8" stroke="#333" stroke-width="1"/>
<line x1="708.5" y1="162.8" x2="708.5" y2="224.8" stroke="#333" stroke-width="1"/>
<path d="M715.5,163.5 a3.4,2.727272727272727 0 0 0 0,5.454545454545454 a3.4,2.727272727272727 0 0 0 0,5.454545454545454 a3.4,2.727272727272727 0 0 0 0,5.454545454545454 a3.4,2.727272727272727 0 0 0 0,5.454545454545454 a3.4,2.727272727272727 0 0 0 0,5.454545454545454 a3.4,2.727272727272727 0 0 0 0,5.454545454545454 a3.4,2.727272727272727 0 0 0 0,5.454545454545454 a3.4,2.727272727272727 0 0 0 0,5.454545454545454 a3.4,2.727272727272727 0 0 0 0,5.454545454545454 a3.4,2.727272727272727 0 0 0 0,5.454545454545454 a3.4,2.727272727272727 0 0 0 0,5.454545454545454" fill="none" stroke="#333" stroke-width="1"/>
<text x="705.8" y="160" font-size="6.6" text-anchor="middle" fill="#333">T1</text>
<text x="686.6" y="167.7" font-size="5.4" font-weight="bold" fill="#222">5k</text>
<text x="716.5" y="168.2" font-size="5.4" font-weight="bold" fill="#222">16</text>
<text x="716.8" y="195.2" font-size="4.6" font-weight="bold" fill="#222">8</text>
<text x="716.8" y="213.2" font-size="4.6" font-weight="bold" fill="#222">4</text>
<text x="716.8" y="223.2" font-size="4.6" font-weight="bold" fill="#222">0</text>
<polyline points="715.5,163.5 715.5,107.5 738.5,107.5" fill="none" stroke="#333" stroke-width="1"/>
<polyline points="716.5,193.5 722.5,193.5 722.5,159.5 738.5,159.5" fill="none" stroke="#333" stroke-width="1"/>
<line x1="716" y1="211.5" x2="738.1" y2="211.5" stroke="#333" stroke-width="1"/>
<polyline points="715.5,222.5 715.5,239.5 738.5,239.5" fill="none" stroke="#333" stroke-width="1"/>
<rect x="760.9" y="107.10000000000001" width="4.3" height="28.6" fill="#1a1a1a"/>
<line x1="738.1" y1="107.5" x2="754" y2="107.5" stroke="#333" stroke-width="1"/>
<path d="M749.4,107.0 L755.2,107.0 L752.3,111.0 Z" fill="#222"/>
<polyline points="738.5,116.5 747.5,116.5 747.5,109.5" fill="none" stroke="#333" stroke-width="0.9"/>
<polyline points="745.5,111.5 747.5,109.5 749.5,111.5" fill="none" stroke="#222" stroke-width="0.9"/>
<polyline points="738.5,126.5 747.5,126.5 747.5,134.5" fill="none" stroke="#333" stroke-width="0.9"/>
<polyline points="745.5,131.5 747.5,134.5 749.5,131.5" fill="none" stroke="#222" stroke-width="0.9"/>
<line x1="738.1" y1="135.5" x2="760.9" y2="135.5" stroke="#333" stroke-width="1"/>
<circle cx="738.5" cy="107.5" r="2.1" fill="#111"/>
<circle cx="738.5" cy="116.5" r="2.1" fill="#111"/>
<circle cx="738.5" cy="126.5" r="2.1" fill="#111"/>
<circle cx="738.5" cy="135.5" r="2.1" fill="#111"/>
<text x="740.4" y="105.60000000000001" font-size="6.2" font-weight="bold" fill="#222">1</text>
<text x="740.4" y="115.00000000000001" font-size="6.2" font-weight="bold" fill="#222">2</text>
<text x="740.4" y="124.2" font-size="6.2" font-weight="bold" fill="#222">3</text>
<text x="740.4" y="133.9" font-size="6.2" font-weight="bold" fill="#222">4</text>
<text x="768" y="122.9" font-size="6.5" fill="#333">J2</text>
<rect x="760.9" y="159.5" width="4.3" height="28.6" fill="#1a1a1a"/>
<line x1="738.1" y1="159.5" x2="754" y2="159.5" stroke="#333" stroke-width="1"/>
<path d="M749.4,159.4 L755.2,159.4 L752.3,163.4 Z" fill="#222"/>
<polyline points="738.5,169.5 747.5,169.5 747.5,161.5" fill="none" stroke="#333" stroke-width="0.9"/>
<polyline points="745.5,163.5 747.5,161.5 749.5,163.5" fill="none" stroke="#222" stroke-width="0.9"/>
<polyline points="738.5,178.5 747.5,178.5 747.5,186.5" fill="none" stroke="#333" stroke-width="0.9"/>
<polyline points="745.5,184.5 747.5,186.5 749.5,184.5" fill="none" stroke="#222" stroke-width="0.9"/>
<line x1="738.1" y1="188.5" x2="760.9" y2="188.5" stroke="#333" stroke-width="1"/>
<circle cx="738.5" cy="159.5" r="2.1" fill="#111"/>
<circle cx="738.5" cy="169.5" r="2.1" fill="#111"/>
<circle cx="738.5" cy="178.5" r="2.1" fill="#111"/>
<circle cx="738.5" cy="188.5" r="2.1" fill="#111"/>
<text x="740.4" y="158.0" font-size="6.2" font-weight="bold" fill="#222">1</text>
<text x="740.4" y="167.4" font-size="6.2" font-weight="bold" fill="#222">2</text>
<text x="740.4" y="176.6" font-size="6.2" font-weight="bold" fill="#222">3</text>
<text x="740.4" y="186.3" font-size="6.2" font-weight="bold" fill="#222">4</text>
<text x="768" y="175.3" font-size="6.5" fill="#333">J3</text>
<rect x="760.9" y="211.0" width="4.3" height="28.6" fill="#1a1a1a"/>
<line x1="738.1" y1="211.5" x2="754" y2="211.5" stroke="#333" stroke-width="1"/>
<path d="M749.4,210.9 L755.2,210.9 L752.3,214.9 Z" fill="#222"/>
<polyline points="738.5,220.5 747.5,220.5 747.5,213.5" fill="none" stroke="#333" stroke-width="0.9"/>
<polyline points="745.5,215.5 747.5,213.5 749.5,215.5" fill="none" stroke="#222" stroke-width="0.9"/>
<polyline points="738.5,229.5 747.5,229.5 747.5,238.5" fill="none" stroke="#333" stroke-width="0.9"/>
<polyline points="745.5,235.5 747.5,238.5 749.5,235.5" fill="none" stroke="#222" stroke-width="0.9"/>
<line x1="738.1" y1="239.5" x2="760.9" y2="239.5" stroke="#333" stroke-width="1"/>
<circle cx="738.5" cy="211.5" r="2.1" fill="#111"/>
<circle cx="738.5" cy="220.5" r="2.1" fill="#111"/>
<circle cx="738.5" cy="229.5" r="2.1" fill="#111"/>
<circle cx="738.5" cy="239.5" r="2.1" fill="#111"/>
<text x="740.4" y="209.5" font-size="6.2" font-weight="bold" fill="#222">1</text>
<text x="740.4" y="218.9" font-size="6.2" font-weight="bold" fill="#222">2</text>
<text x="740.4" y="228.1" font-size="6.2" font-weight="bold" fill="#222">3</text>
<text x="740.4" y="237.8" font-size="6.2" font-weight="bold" fill="#222">4</text>
<text x="768" y="226.8" font-size="6.5" fill="#333">J4</text>
<line x1="732.3" y1="135.5" x2="738.1" y2="135.5" stroke="#333" stroke-width="1"/>
<line x1="731.5" y1="135.7" x2="731.5" y2="157" stroke="#333" stroke-width="1"/>
<line x1="731.5" y1="162.8" x2="731.5" y2="208.5" stroke="#333" stroke-width="1"/>
<line x1="731.5" y1="214.3" x2="731.5" y2="319" stroke="#333" stroke-width="1"/>
<circle cx="731.5" cy="188.5" r="1.6" fill="#111"/>
<circle cx="731.5" cy="239.5" r="1.6" fill="#111"/>
<line x1="731.5" y1="300" x2="731.5" y2="319.4" stroke="#444" stroke-width="1"/>
<path d="M728.0,315.79999999999995 L731.5,317.2 L735.0,315.79999999999995 L731.5,320.79999999999995 Z" fill="#2a2a2a" stroke="#2a2a2a" stroke-width="0.7" stroke-linejoin="round"/>
<path d="M137,347 L155.6,347 L146.3,369 Z" fill="#d42a2a" stroke="#b01c1c" stroke-width="0.6"/>
<text x="146.5" y="356.7" font-size="11" text-anchor="middle" font-weight="bold" fill="#fff" stroke="#fff" stroke-width="0.35">C</text>
<path d="M218,347 L237,347 L227.5,369 Z" fill="#d42a2a" stroke="#b01c1c" stroke-width="0.6"/>
<text x="227.7" y="356.7" font-size="11" text-anchor="middle" font-weight="bold" fill="#fff" stroke="#fff" stroke-width="0.35">B</text>
<path d="M259,347 L277.6,347 L268.3,369 Z" fill="#d42a2a" stroke="#b01c1c" stroke-width="0.6"/>
<text x="268.5" y="356.7" font-size="11" text-anchor="middle" font-weight="bold" fill="#fff" stroke="#fff" stroke-width="0.35">A</text>
<line x1="146.5" y1="369" x2="146.5" y2="461" stroke="#333" stroke-width="1"/>
<circle cx="146.5" cy="409.5" r="1.6" fill="#111"/>
<line x1="146.4" y1="409.5" x2="157" y2="409.5" stroke="#333" stroke-width="1"/>
<rect x="156.5" y="406.5" width="19" height="6" rx="0.8" fill="#fcf8cc" stroke="#55554a" stroke-width="1"/>
<line x1="175.6" y1="409.5" x2="198" y2="409.5" stroke="#333" stroke-width="1"/>
<text x="166.3" y="396.6" font-size="6.3" text-anchor="middle" fill="#333">R19</text>
<text x="166.3" y="404.1" font-size="6.3" text-anchor="middle" fill="#333">10k</text>
<circle cx="186.5" cy="409.5" r="1.6" fill="#111"/>
<rect x="198.5" y="406.5" width="19" height="6" rx="0.8" fill="#fcf8cc" stroke="#55554a" stroke-width="1"/>
<text x="207.3" y="396.6" font-size="6.3" text-anchor="middle" fill="#333">R20</text>
<text x="207.3" y="404.1" font-size="6.3" text-anchor="middle" fill="#333">100r</text>
<line x1="216.6" y1="409.5" x2="224" y2="409.5" stroke="#333" stroke-width="1"/>
<line x1="231" y1="409.5" x2="264.5" y2="409.5" stroke="#333" stroke-width="1"/>
<line x1="271.5" y1="409.5" x2="435.4" y2="409.5" stroke="#333" stroke-width="1"/>
<line x1="435.5" y1="409.2" x2="435.5" y2="453" stroke="#333" stroke-width="1"/>
<line x1="139.20000000000002" y1="461.09999999999997" x2="153.6" y2="461.09999999999997" stroke="#1a1a1a" stroke-width="1.8"/>
<line x1="139.20000000000002" y1="464.3" x2="153.6" y2="464.3" stroke="#1a1a1a" stroke-width="1.8"/>
<line x1="140.5" y1="456.5" x2="144.3" y2="456.5" stroke="#333" stroke-width="0.8" shape-rendering="crispEdges"/>
<line x1="142.5" y1="454.90000000000003" x2="142.5" y2="458.7" stroke="#333" stroke-width="0.8" shape-rendering="crispEdges"/>
<text x="155.6" y="460.7" font-size="6.3" fill="#333">C12</text>
<text x="155.6" y="468.6" font-size="6.3" fill="#333">22uF</text>
<line x1="179.8" y1="461.09999999999997" x2="194.2" y2="461.09999999999997" stroke="#1a1a1a" stroke-width="1.8"/>
<line x1="179.8" y1="464.3" x2="194.2" y2="464.3" stroke="#1a1a1a" stroke-width="1.8"/>
<line x1="181.1" y1="456.5" x2="184.9" y2="456.5" stroke="#333" stroke-width="0.8" shape-rendering="crispEdges"/>
<line x1="182.5" y1="454.90000000000003" x2="182.5" y2="458.7" stroke="#333" stroke-width="0.8" shape-rendering="crispEdges"/>
<text x="196.2" y="460.7" font-size="6.3" fill="#333">C13</text>
<text x="196.2" y="468.6" font-size="6.3" fill="#333">22uF</text>
<line x1="220.20000000000002" y1="461.09999999999997" x2="234.6" y2="461.09999999999997" stroke="#1a1a1a" stroke-width="1.8"/>
<line x1="220.20000000000002" y1="464.3" x2="234.6" y2="464.3" stroke="#1a1a1a" stroke-width="1.8"/>
<line x1="221.5" y1="456.5" x2="225.3" y2="456.5" stroke="#333" stroke-width="0.8" shape-rendering="crispEdges"/>
<line x1="223.5" y1="454.90000000000003" x2="223.5" y2="458.7" stroke="#333" stroke-width="0.8" shape-rendering="crispEdges"/>
<text x="236.6" y="460.7" font-size="6.3" fill="#333">C14</text>
<text x="236.6" y="468.6" font-size="6.3" fill="#333">47uF</text>
<line x1="260.90000000000003" y1="461.09999999999997" x2="275.3" y2="461.09999999999997" stroke="#1a1a1a" stroke-width="1.8"/>
<line x1="260.90000000000003" y1="464.3" x2="275.3" y2="464.3" stroke="#1a1a1a" stroke-width="1.8"/>
<line x1="262.20000000000005" y1="456.5" x2="266.0" y2="456.5" stroke="#333" stroke-width="0.8" shape-rendering="crispEdges"/>
<line x1="264.5" y1="454.90000000000003" x2="264.5" y2="458.7" stroke="#333" stroke-width="0.8" shape-rendering="crispEdges"/>
<text x="277.3" y="460.7" font-size="6.3" fill="#333">C15</text>
<text x="277.3" y="468.6" font-size="6.3" fill="#333">47uF</text>
<line x1="146.5" y1="464.1" x2="146.5" y2="500.8" stroke="#333" stroke-width="1"/>
<line x1="146.4" y1="500.5" x2="605.3" y2="500.5" stroke="#333" stroke-width="1"/>
<line x1="186.5" y1="409.2" x2="186.5" y2="461.2" stroke="#333" stroke-width="1"/>
<line x1="186.5" y1="464.1" x2="186.5" y2="500.8" stroke="#333" stroke-width="1"/>
<circle cx="186.5" cy="500.5" r="1.6" fill="#111"/>
<line x1="227.5" y1="369" x2="227.5" y2="461.2" stroke="#333" stroke-width="1"/>
<line x1="227.5" y1="464.1" x2="227.5" y2="500.8" stroke="#333" stroke-width="1"/>
<circle cx="227.5" cy="500.5" r="1.6" fill="#111"/>
<circle cx="227.5" cy="430.5" r="1.6" fill="#111"/>
<line x1="268.5" y1="369" x2="268.5" y2="461.2" stroke="#333" stroke-width="1"/>
<line x1="268.5" y1="464.1" x2="268.5" y2="500.8" stroke="#333" stroke-width="1"/>
<circle cx="268.5" cy="500.5" r="1.6" fill="#111"/>
<circle cx="268.5" cy="430.5" r="1.6" fill="#111"/>
<line x1="227.4" y1="430.5" x2="238" y2="430.5" stroke="#333" stroke-width="1"/>
<rect x="238.5" y="427.5" width="19" height="6" rx="0.8" fill="#fcf8cc" stroke="#55554a" stroke-width="1"/>
<line x1="257" y1="430.5" x2="321" y2="430.5" stroke="#333" stroke-width="1"/>
<text x="247.5" y="417.7" font-size="6.3" text-anchor="middle" fill="#333">R21</text>
<text x="247.5" y="425.2" font-size="6.3" text-anchor="middle" fill="#333">1k</text>
<circle cx="303.5" cy="430.5" r="1.6" fill="#111"/>
<line x1="303.5" y1="430" x2="303.5" y2="453" stroke="#333" stroke-width="1"/>
<rect x="300.5" y="452.5" width="6" height="19" rx="0.8" fill="#fcf8cc" stroke="#55554a" stroke-width="1"/>
<line x1="303.5" y1="472" x2="303.5" y2="500.8" stroke="#333" stroke-width="1"/>
<circle cx="303.5" cy="500.5" r="1.6" fill="#111"/>
<text x="308" y="460.7" font-size="6.3" fill="#333">R22</text>
<text x="308" y="468.6" font-size="6.3" fill="#333">100k</text>
<path d="M321.2,430.5 L325.6,427.6 L325.6,433.4 Z" fill="#1a1a1a" stroke="#1a1a1a" stroke-width="0.6"/>
<line x1="320.9" y1="426.9" x2="320.9" y2="434" stroke="#1a1a1a" stroke-width="1.4"/>
<line x1="325.4" y1="430.5" x2="340" y2="430.5" stroke="#333" stroke-width="1"/>
<circle cx="334.5" cy="430.5" r="1.6" fill="#111"/>
<text x="323" y="417.2" font-size="6.3" text-anchor="middle" fill="#333">D1</text>
<text x="323" y="424.6" font-size="6.3" text-anchor="middle" fill="#333">UF4007</text>
<rect x="340.5" y="427.5" width="19" height="6" rx="0.8" fill="#fcf8cc" stroke="#55554a" stroke-width="1"/>
<text x="349.3" y="417.2" font-size="6.3" text-anchor="middle" fill="#333">R23</text>
<text x="349.3" y="424.6" font-size="6.3" text-anchor="middle" fill="#333">10r</text>
<line x1="358.6" y1="430.5" x2="370.4" y2="430.5" stroke="#333" stroke-width="1"/>
<line x1="375.5" y1="430.5" x2="435.4" y2="430.5" stroke="#333" stroke-width="1"/>
<circle cx="373.4" cy="436" r="8.9" fill="none" stroke="#222" stroke-width="1"/>
<line x1="370.5" y1="430.3" x2="370.5" y2="436.3" stroke="#333" stroke-width="1"/>
<line x1="375.5" y1="430.3" x2="375.5" y2="436.3" stroke="#333" stroke-width="1"/>
<path d="M373.6,433.6 L377.4,433.6 L375.5,436.3 Z" fill="#1a1a1a"/>
<line x1="368.3" y1="436.5" x2="380" y2="436.5" stroke="#222" stroke-width="1.1"/>
<line x1="369.2" y1="439.7" x2="378.5" y2="439.7" stroke="#555" stroke-width="1.3"/>
<line x1="369.5" y1="439.7" x2="369.5" y2="462.4" stroke="#333" stroke-width="1"/>
<text x="374" y="417.2" font-size="6.3" text-anchor="middle" fill="#333">Q1</text>
<text x="374" y="424.6" font-size="6.3" text-anchor="middle" fill="#333">2SK2968</text>
<text x="360.3" y="437.6" font-size="6.2" font-weight="bold" fill="#222">3</text>
<text x="384.2" y="437.6" font-size="6.2" font-weight="bold" fill="#222">2</text>
<text x="370.6" y="450.8" font-size="6.2" font-weight="bold" fill="#222">1</text>
<circle cx="404.5" cy="430.5" r="1.6" fill="#111"/>
<circle cx="435.5" cy="430.5" r="1.6" fill="#111"/>
<polyline points="334.5,430.5 334.5,462.5 348.5,462.5" fill="none" stroke="#333" stroke-width="1"/>
<path d="M347.8,459.9 L352,462.4 L347.8,464.9 Z" fill="#1a1a1a" stroke="#1a1a1a" stroke-width="0.6"/>
<polyline points="351.5,458.5 352.5,459.5 352.5,464.5 353.5,466.5" fill="none" stroke="#1a1a1a" stroke-width="1.2"/>
<line x1="352.3" y1="462.5" x2="375.6" y2="462.5" stroke="#333" stroke-width="1"/>
<circle cx="369.5" cy="462.5" r="1.6" fill="#111"/>
<text x="351" y="472.3" font-size="6.3" text-anchor="middle" fill="#333">D2</text>
<text x="351" y="479.7" font-size="6.3" text-anchor="middle" fill="#333">12.1V</text>
<rect x="375.5" y="459.5" width="18" height="6" rx="0.8" fill="#fcf8cc" stroke="#55554a" stroke-width="1"/>
<text x="384.7" y="472.3" font-size="6.3" text-anchor="middle" fill="#333">R24</text>
<text x="384.7" y="479.7" font-size="6.3" text-anchor="middle" fill="#333">100k</text>
<line x1="393.6" y1="462.5" x2="401.6" y2="462.5" stroke="#333" stroke-width="1"/>
<polyline points="398.5,459.5 401.5,462.5 398.5,465.5" fill="none" stroke="#222" stroke-width="1"/>
<line x1="404.5" y1="430.3" x2="404.5" y2="453" stroke="#333" stroke-width="1"/>
<rect x="402.5" y="452.5" width="6" height="19" rx="0.6" fill="#fcf8cc" stroke="#55554a" stroke-width="1"/>
<text x="405.5" y="457.6666666666667" font-size="5.6" text-anchor="middle" font-weight="bold" fill="#222">1</text>
<text x="405.5" y="464.0" font-size="5.6" text-anchor="middle" font-weight="bold" fill="#222">2</text>
<text x="405.5" y="470.3333333333333" font-size="5.6" text-anchor="middle" font-weight="bold" fill="#222">3</text>
<line x1="405.5" y1="472.4" x2="405.5" y2="479" stroke="#333" stroke-width="1"/>
<rect x="402.5" y="478.5" width="6" height="18" rx="0.8" fill="#fcf8cc" stroke="#55554a" stroke-width="1"/>
<line x1="405.5" y1="497.4" x2="405.5" y2="500.8" stroke="#333" stroke-width="1"/>
<circle cx="405.5" cy="500.5" r="1.6" fill="#111"/>
<text x="410.4" y="456.4" font-size="6.3" fill="#333">VR6</text>
<text x="410.4" y="463.8" font-size="6.3" fill="#333">1M</text>
<text x="410.4" y="471.2" font-size="6.3" fill="#333">Lin</text>
<text x="410.2" y="485.8" font-size="6.3" fill="#333">R25</text>
<text x="410.2" y="493.2" font-size="6.3" fill="#333">100k</text>
<rect x="432.5" y="452.5" width="6" height="19" rx="0.8" fill="#fcf8cc" stroke="#55554a" stroke-width="1"/>
<line x1="435.5" y1="472" x2="435.5" y2="500.8" stroke="#333" stroke-width="1"/>
<circle cx="435.5" cy="500.5" r="1.6" fill="#111"/>
<text x="440.8" y="460.7" font-size="6.3" fill="#333">R26</text>
<text x="440.8" y="468.6" font-size="6.3" fill="#333">100k</text>
<line x1="435.4" y1="430.5" x2="580.6" y2="430.5" stroke="#333" stroke-width="1"/>
<circle cx="471.5" cy="430.5" r="1.6" fill="#111"/>
<line x1="471.5" y1="430.4" x2="471.5" y2="460" stroke="#333" stroke-width="1"/>
<line x1="464.3" y1="460.0" x2="478.09999999999997" y2="460.0" stroke="#1a1a1a" stroke-width="1.8"/>
<line x1="464.3" y1="464.0" x2="478.09999999999997" y2="464.0" stroke="#1a1a1a" stroke-width="1.8"/>
<line x1="465.3" y1="455.5" x2="469.09999999999997" y2="455.5" stroke="#333" stroke-width="0.8" shape-rendering="crispEdges"/>
<line x1="467.5" y1="453.80000000000007" x2="467.5" y2="457.6" stroke="#333" stroke-width="0.8" shape-rendering="crispEdges"/>
<line x1="471.5" y1="463.8" x2="471.5" y2="500.8" stroke="#333" stroke-width="1"/>
<circle cx="471.5" cy="500.5" r="1.6" fill="#111"/>
<text x="480.0" y="460.4" font-size="6.3" fill="#333">C16</text>
<text x="480.0" y="468.3" font-size="6.3" fill="#333">22uF</text>
<circle cx="511.5" cy="430.5" r="1.6" fill="#111"/>
<line x1="511.5" y1="430.4" x2="511.5" y2="460" stroke="#333" stroke-width="1"/>
<line x1="504.8" y1="460.0" x2="518.6" y2="460.0" stroke="#1a1a1a" stroke-width="1.8"/>
<line x1="504.8" y1="464.0" x2="518.6" y2="464.0" stroke="#1a1a1a" stroke-width="1.8"/>
<line x1="505.8" y1="455.5" x2="509.59999999999997" y2="455.5" stroke="#333" stroke-width="0.8" shape-rendering="crispEdges"/>
<line x1="507.5" y1="453.80000000000007" x2="507.5" y2="457.6" stroke="#333" stroke-width="0.8" shape-rendering="crispEdges"/>
<line x1="511.5" y1="463.8" x2="511.5" y2="500.8" stroke="#333" stroke-width="1"/>
<circle cx="511.5" cy="500.5" r="1.6" fill="#111"/>
<text x="520.5" y="460.4" font-size="6.3" fill="#333">C17</text>
<text x="520.5" y="468.3" font-size="6.3" fill="#333">22uF</text>
<circle cx="555.5" cy="430.5" r="1.6" fill="#111"/>
<polyline points="555.5,430.5 555.5,461.5 580.5,461.5" fill="none" stroke="#333" stroke-width="1"/>
<path d="M580.8,430.5 L585.2,427.59999999999997 L585.2,433.4 Z" fill="#1a1a1a" stroke="#1a1a1a" stroke-width="0.6"/>
<line x1="580.5" y1="427.0" x2="580.5" y2="434.0" stroke="#1a1a1a" stroke-width="1.4"/>
<line x1="585" y1="430.5" x2="626.6" y2="430.5" stroke="#333" stroke-width="1"/>
<text x="565.8" y="440" font-size="6.4" fill="#333">D3 UF4007</text>
<path d="M580.8,461.3 L585.2,458.4 L585.2,464.2 Z" fill="#1a1a1a" stroke="#1a1a1a" stroke-width="0.6"/>
<line x1="580.5" y1="457.8" x2="580.5" y2="464.8" stroke="#1a1a1a" stroke-width="1.4"/>
<line x1="585" y1="461.5" x2="626.6" y2="461.5" stroke="#333" stroke-width="1"/>
<text x="565.8" y="470.2" font-size="6.4" fill="#333">D4 UF4007</text>
<line x1="605.5" y1="442.6" x2="605.5" y2="458.3" stroke="#333" stroke-width="1"/>
<line x1="605.5" y1="464" x2="605.5" y2="519" stroke="#333" stroke-width="1"/>
<circle cx="605.5" cy="442.5" r="1.6" fill="#111"/>
<circle cx="605.5" cy="500.5" r="1.6" fill="#111"/>
<line x1="605.5" y1="500.8" x2="605.5" y2="520" stroke="#444" stroke-width="1"/>
<path d="M602.0,516.4 L605.5,517.8 L609.0,516.4 L605.5,521.4 Z" fill="#2a2a2a" stroke="#2a2a2a" stroke-width="0.7" stroke-linejoin="round"/>
<line x1="605.3" y1="442.5" x2="626.6" y2="442.5" stroke="#333" stroke-width="1"/>
<polyline points="605.5,418.5 605.5,408.5 626.5,408.5" fill="none" stroke="#333" stroke-width="1"/>
<line x1="605.5" y1="424" x2="605.5" y2="427.6" stroke="#333" stroke-width="1"/>
<line x1="605.5" y1="433.4" x2="605.5" y2="442.6" stroke="#333" stroke-width="1"/>
<path d="M500.4960403801282,372.8 A10.3,10.3 0 1 0 520.7039596198719,372.8 Z" fill="#c3bde3"/>
<path d="M500.4960403801282,372.8 A10.3,10.3 0 1 0 520.7039596198719,372.8" fill="none" stroke="#2b2b2b" stroke-width="1.1"/>
<polyline points="504.40000000000003,383.3 510.6,375.4 516.8000000000001,383.3" fill="none" stroke="#1a1a1a" stroke-width="1.5"/>
<text x="510.6" y="370.9" font-size="6.6" text-anchor="middle" fill="#333">V1</text>
<path d="M533.6960403801281,372.8 A10.3,10.3 0 1 0 553.9039596198718,372.8 Z" fill="#c3bde3"/>
<path d="M533.6960403801281,372.8 A10.3,10.3 0 1 0 553.9039596198718,372.8" fill="none" stroke="#2b2b2b" stroke-width="1.1"/>
<polyline points="537.5999999999999,383.3 543.8,375.4 550.0,383.3" fill="none" stroke="#1a1a1a" stroke-width="1.5"/>
<text x="543.8" y="370.9" font-size="6.6" text-anchor="middle" fill="#333">V2</text>
<path d="M566.4960403801282,372.8 A10.3,10.3 0 1 0 586.7039596198719,372.8 Z" fill="#c3bde3"/>
<path d="M566.4960403801282,372.8 A10.3,10.3 0 1 0 586.7039596198719,372.8" fill="none" stroke="#2b2b2b" stroke-width="1.1"/>
<polyline points="570.4,383.3 576.6,375.4 582.8000000000001,383.3" fill="none" stroke="#1a1a1a" stroke-width="1.5"/>
<text x="576.6" y="370.9" font-size="6.6" text-anchor="middle" fill="#333">V3</text>
<line x1="504.5" y1="383.3" x2="504.5" y2="395.4" stroke="#333" stroke-width="1"/>
<line x1="516.5" y1="383.3" x2="516.5" y2="395.4" stroke="#333" stroke-width="1"/>
<circle cx="516.5" cy="395.5" r="1.6" fill="#111"/>
<line x1="510.5" y1="375.4" x2="510.5" y2="393" stroke="#333" stroke-width="1"/>
<line x1="510.5" y1="398.3" x2="510.5" y2="421.2" stroke="#333" stroke-width="1"/>
<text x="503" y="387.3" font-size="6.2" text-anchor="end" font-weight="bold" fill="#222">4</text>
<text x="518.8" y="387.3" font-size="6.2" font-weight="bold" fill="#222">5</text>
<text x="512.3" y="391" font-size="6.2" font-weight="bold" fill="#222">9</text>
<line x1="537.5" y1="383.3" x2="537.5" y2="393" stroke="#333" stroke-width="1"/>
<line x1="537.5" y1="398.3" x2="537.5" y2="421.2" stroke="#333" stroke-width="1"/>
<circle cx="537.5" cy="421.5" r="1.6" fill="#111"/>
<line x1="550.5" y1="383.3" x2="550.5" y2="395.4" stroke="#333" stroke-width="1"/>
<circle cx="550.5" cy="395.5" r="1.6" fill="#111"/>
<text x="536.2" y="387.3" font-size="6.2" text-anchor="end" font-weight="bold" fill="#222">4</text>
<text x="552" y="387.3" font-size="6.2" font-weight="bold" fill="#222">5</text>
<line x1="570.5" y1="383.3" x2="570.5" y2="395.4" stroke="#333" stroke-width="1"/>
<circle cx="570.5" cy="395.5" r="1.6" fill="#111"/>
<line x1="582.5" y1="383.3" x2="582.5" y2="393" stroke="#333" stroke-width="1"/>
<line x1="582.5" y1="398.3" x2="582.5" y2="421.2" stroke="#333" stroke-width="1"/>
<circle cx="582.5" cy="421.5" r="1.6" fill="#111"/>
<text x="569" y="387.3" font-size="6.2" text-anchor="end" font-weight="bold" fill="#222">2</text>
<text x="584.8" y="387.3" font-size="6.2" font-weight="bold" fill="#222">7</text>
<line x1="504.4" y1="395.5" x2="626.6" y2="395.5" stroke="#333" stroke-width="1"/>
<line x1="510.6" y1="421.5" x2="626.6" y2="421.5" stroke="#333" stroke-width="1"/>
<path d="M626.5,395.5 a2.6,3.25 0 0 1 0,6.5 a2.6,3.25 0 0 1 0,6.5 a2.6,3.25 0 0 1 0,6.5 a2.6,3.25 0 0 1 0,6.5" fill="none" stroke="#333" stroke-width="1"/>
<path d="M626.5,430.5 a2.6,3.1 0 0 1 0,6.2 a2.6,3.1 0 0 1 0,6.2 a2.6,3.1 0 0 1 0,6.2 a2.6,3.1 0 0 1 0,6.2 a2.6,3.1 0 0 1 0,6.2" fill="none" stroke="#333" stroke-width="1"/>
<line x1="632.5" y1="391.5" x2="632.5" y2="462.6" stroke="#333" stroke-width="1"/>
<line x1="635.5" y1="391.5" x2="635.5" y2="462.6" stroke="#333" stroke-width="1"/>
<line x1="638.5" y1="391.5" x2="638.5" y2="462.6" stroke="#333" stroke-width="1"/>
<path d="M643.8,392.5 a2.4,3.1363636363636362 0 0 0 0,6.2727272727272725 a2.4,3.1363636363636362 0 0 0 0,6.2727272727272725 a2.4,3.1363636363636362 0 0 0 0,6.2727272727272725 a2.4,3.1363636363636362 0 0 0 0,6.2727272727272725 a2.4,3.1363636363636362 0 0 0 0,6.2727272727272725 a2.4,3.1363636363636362 0 0 0 0,6.2727272727272725 a2.4,3.1363636363636362 0 0 0 0,6.2727272727272725 a2.4,3.1363636363636362 0 0 0 0,6.2727272727272725 a2.4,3.1363636363636362 0 0 0 0,6.2727272727272725 a2.4,3.1363636363636362 0 0 0 0,6.2727272727272725 a2.4,3.1363636363636362 0 0 0 0,6.2727272727272725" fill="none" stroke="#333" stroke-width="1"/>
<text x="634.6" y="388.6" font-size="6.6" text-anchor="middle" fill="#333">T2</text>
<text x="626" y="400.6" font-size="6" text-anchor="end" font-weight="bold" fill="#222">6.3V</text>
<text x="626" y="419.8" font-size="6" text-anchor="end" font-weight="bold" fill="#222">0V</text>
<text x="626" y="435.3" font-size="6" text-anchor="end" font-weight="bold" fill="#222">190V</text>
<text x="626" y="447.7" font-size="6" text-anchor="end" font-weight="bold" fill="#222">0V</text>
<text x="626" y="460.7" font-size="6" text-anchor="end" font-weight="bold" fill="#222">190V</text>
<line x1="643.8" y1="405.5" x2="649.8" y2="405.5" stroke="#333" stroke-width="1"/>
<line x1="645.5" y1="417.5" x2="649.8" y2="417.5" stroke="#333" stroke-width="1"/>
<polyline points="643.5,429.5 649.5,429.5 649.5,436.5 643.5,436.5" fill="none" stroke="#333" stroke-width="1"/>
<text x="647.6" y="390.8" font-size="6" font-weight="bold" fill="#222" font-style="italic">240V</text>
<text x="649" y="404.2" font-size="6" font-weight="bold" fill="#222" font-style="italic">230V</text>
<text x="649" y="416.6" font-size="6" font-weight="bold" fill="#222" font-style="italic">220V</text>
<text x="649" y="428.2" font-size="6" font-weight="bold" fill="#222" font-style="italic">120V</text>
<text x="649" y="435.3" font-size="6" font-weight="bold" fill="#222" font-style="italic">100V</text>
<text x="647.6" y="460.4" font-size="6" font-weight="bold" fill="#222" font-style="italic">0V</text>
<line x1="643.8" y1="392.5" x2="699.5" y2="392.5" stroke="#333" stroke-width="1"/>
<circle cx="681.5" cy="392.5" r="1.6" fill="#111"/>
<line x1="643.8" y1="461.5" x2="699.5" y2="461.5" stroke="#333" stroke-width="1"/>
<circle cx="681.5" cy="461.5" r="1.6" fill="#111"/>
<line x1="681.5" y1="392.3" x2="681.5" y2="461.3" stroke="#333" stroke-width="1"/>
<circle cx="681.7" cy="425.4" r="4.5" fill="#c9282d" stroke="#8f1b1b" stroke-width="0.6"/>
<text x="687.8" y="428.6" font-size="6.6" fill="#333">L1</text>
<circle cx="699.5" cy="392.5" r="2" fill="#111"/>
<circle cx="710.5" cy="392.5" r="2" fill="#111"/>
<line x1="698.5" y1="387.5" x2="710.2" y2="392.3" stroke="#222" stroke-width="1"/>
<circle cx="699.5" cy="461.5" r="2" fill="#111"/>
<circle cx="710.5" cy="461.5" r="2" fill="#111"/>
<line x1="698.5" y1="456.5" x2="710.2" y2="461.3" stroke="#222" stroke-width="1"/>
<line x1="704.5" y1="393" x2="704.5" y2="456.4" stroke="#333" stroke-width="0.9" stroke-dasharray="2 1.6"/>
<text x="705.1" y="385.3" font-size="6.6" text-anchor="middle" fill="#333">S3</text>
<polyline points="710.5,392.5 741.5,392.5 741.5,430.5" fill="none" stroke="#333" stroke-width="1"/>
<circle cx="741.5" cy="431.5" r="1.9" fill="#111"/>
<circle cx="741.5" cy="442.5" r="1.9" fill="#111"/>
<path d="M741.6,431.3 C744.5,434 738.7,439.5 741.6,442.4" fill="none" stroke="#222" stroke-width="1"/>
<text x="739.4" y="439.2" font-size="6.4" text-anchor="end" fill="#333">T500mA</text>
<line x1="741.6" y1="442.5" x2="753.8" y2="442.5" stroke="#333" stroke-width="1"/>
<line x1="726.8" y1="452.5" x2="753.8" y2="452.5" stroke="#333" stroke-width="1"/>
<line x1="710.2" y1="461.5" x2="753.8" y2="461.5" stroke="#333" stroke-width="1"/>
<circle cx="741.5" cy="452.5" r="1.9" fill="#111"/>
<circle cx="741.5" cy="461.5" r="1.9" fill="#111"/>
<polyline points="726.5,452.5 726.5,500.5" fill="none" stroke="#555" stroke-width="1.2"/>
<line x1="726.5" y1="470" x2="726.5" y2="501.6" stroke="#444" stroke-width="1"/>
<path d="M723.0,498.0 L726.5,499.40000000000003 L730.0,498.0 L726.5,503.0 Z" fill="#2a2a2a" stroke="#2a2a2a" stroke-width="0.7" stroke-linejoin="round"/>
<rect x="753.8" y="428.4" width="5.8" height="35.9" fill="#1a1a1a"/>
<text x="744.6" y="440.3" font-size="4.8" fill="#333">L</text>
<text x="744.6" y="450.3" font-size="4.8" fill="#333">E</text>
<text x="744.6" y="459.5" font-size="4.8" fill="#333">N</text>
<text x="761.8" y="453.8" font-size="6.4" fill="#333">J5</text>
<ellipse cx="612.2" cy="204.2" rx="105.4" ry="89.6" fill="none" stroke="#d0202a" stroke-width="2.2"/>
</svg></body></html>
